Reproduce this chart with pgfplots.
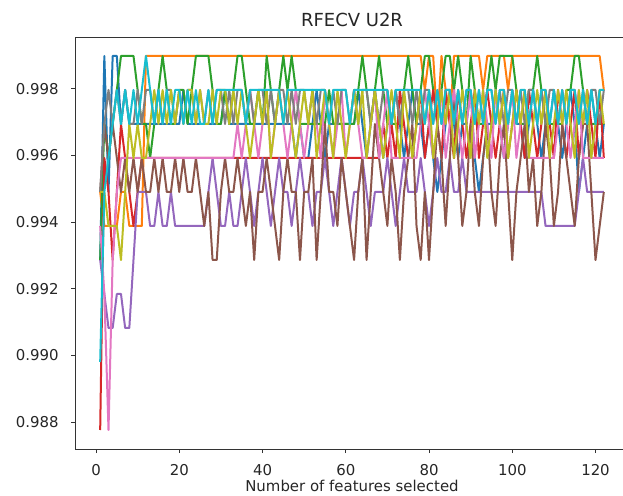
\documentclass[border=0pt]{standalone}
\usepackage{fontspec}
\setmainfont{DejaVu Sans}
\usepackage{pgfplots}
\pgfplotsset{compat=1.18}

\definecolor{c0}{HTML}{1F77B4}
\definecolor{c1}{HTML}{FF7F0E}
\definecolor{c2}{HTML}{2CA02C}
\definecolor{c3}{HTML}{D62728}
\definecolor{c4}{HTML}{9467BD}
\definecolor{c5}{HTML}{8C564B}
\definecolor{c6}{HTML}{E377C2}
\definecolor{c7}{HTML}{7F7F7F}
\definecolor{c8}{HTML}{BCBD22}
\definecolor{c9}{HTML}{17BECF}

\begin{document}
\begin{tikzpicture}
\useasboundingbox (0,0) rectangle (467.25pt,371.25pt);
\begin{axis}[
    at={(56.25pt,34.5pt)}, anchor=south west,
    scale only axis, width=415.5pt, height=309pt,
    xmin=-5.05, xmax=128.05, ymin=0.98719, ymax=0.99955,
    xtick={0,20,40,60,80,100,120},
    ytick={0.988,0.990,0.992,0.994,0.996,0.998},
    scaled y ticks=false,
    /pgf/number format/assume math mode=true,
    tick label style={font=\fontsize{11.2}{13}\selectfont, text=black!85},
    xticklabel style={anchor=base, inner sep=0pt, yshift=-17pt},
    yticklabel style={/pgf/number format/fixed, /pgf/number format/fixed zerofill,
      /pgf/number format/precision=3, anchor=east, inner sep=0pt, xshift=-9pt},
    tick align=outside, xtick pos=left, ytick pos=left,
    major tick length=3pt,
    every tick/.style={black!80, line width=0.6pt},
    axis line style={black!80, line width=0.7pt},
    title={RFECV U2R},
    title style={font=\fontsize{13.5}{16}\selectfont, text=black!85, at={(0.5,1)}, anchor=base, yshift=1.8pt},
    xlabel={Number of features selected},
    xlabel style={font=\fontsize{11.2}{13}\selectfont, text=black!85, at={(0.5,0)}, anchor=base, yshift=-31.5pt},
    every axis plot/.append style={line width=1.5pt, line join=round},
  ]
  % blue
  \addplot[c0] coordinates {(1,0.99286)(2,0.99898)(3,0.99490)(4,0.99898)(5,0.99898)(6,0.99694)(7,0.99796)(8,0.99694)(20,0.99694)(21,0.99796)(22,0.99694)(30,0.99694)(31,0.99796)(32,0.99694)(47,0.99694)(48,0.99592)(49,0.99694)(50,0.99592)(51,0.99592)(52,0.99694)(53,0.99796)(54,0.99694)(55,0.99592)(56,0.99694)(62,0.99694)(63,0.99796)(64,0.99694)(65,0.99592)(66,0.99694)(67,0.99796)(68,0.99694)(69,0.99592)(70,0.99694)(71,0.99694)(72,0.99796)(73,0.99694)(74,0.99592)(75,0.99694)(76,0.99796)(77,0.99694)(78,0.99694)(79,0.99592)(80,0.99694)(81,0.99592)(82,0.99490)(83,0.99592)(84,0.99694)(85,0.99796)(86,0.99694)(87,0.99592)(88,0.99694)(89,0.99694)(90,0.99796)(91,0.99592)(92,0.99490)(93,0.99592)(94,0.99694)(95,0.99694)(96,0.99796)(97,0.99694)(98,0.99592)(99,0.99694)(100,0.99796)(101,0.99694)(102,0.99694)(103,0.99592)(104,0.99694)(105,0.99796)(106,0.99694)(107,0.99592)(108,0.99694)(109,0.99694)(110,0.99796)(111,0.99694)(112,0.99592)(113,0.99694)(114,0.99796)(115,0.99694)(116,0.99490)(117,0.99592)(118,0.99694)(119,0.99796)(120,0.99694)(121,0.99592)(122,0.99694)};
  % orange
  \addplot[c1] coordinates {(1,0.99490)(2,0.99388)(5,0.99388)(6,0.99490)(7,0.99490)(8,0.99388)(11,0.99388)(12,0.99898)(78,0.99898)(79,0.99796)(80,0.99898)(81,0.99898)(82,0.99694)(83,0.99898)(84,0.99796)(85,0.99694)(86,0.99898)(92,0.99898)(93,0.99796)(94,0.99898)(98,0.99898)(99,0.99796)(100,0.99898)(121,0.99898)(122,0.99796)};
  % green
  \addplot[c2] coordinates {(1,0.99286)(2,0.99694)(3,0.99592)(4,0.99694)(5,0.99796)(6,0.99898)(9,0.99898)(10,0.99796)(11,0.99694)(12,0.99694)(13,0.99592)(14,0.99694)(15,0.99796)(16,0.99898)(17,0.99796)(18,0.99694)(19,0.99694)(20,0.99796)(21,0.99796)(22,0.99694)(23,0.99796)(24,0.99898)(27,0.99898)(28,0.99796)(29,0.99694)(30,0.99694)(31,0.99796)(32,0.99694)(33,0.99796)(34,0.99898)(35,0.99898)(36,0.99796)(37,0.99694)(38,0.99694)(39,0.99796)(40,0.99694)(41,0.99898)(42,0.99796)(43,0.99694)(44,0.99796)(45,0.99898)(46,0.99796)(47,0.99898)(48,0.99796)(49,0.99694)(55,0.99694)(56,0.99796)(57,0.99694)(62,0.99694)(63,0.99796)(64,0.99898)(65,0.99796)(66,0.99694)(67,0.99796)(68,0.99898)(69,0.99796)(70,0.99694)(73,0.99694)(74,0.99796)(75,0.99898)(76,0.99796)(77,0.99694)(78,0.99796)(79,0.99898)(80,0.99898)(81,0.99796)(82,0.99694)(83,0.99796)(84,0.99898)(85,0.99898)(86,0.99796)(87,0.99898)(88,0.99796)(89,0.99694)(90,0.99898)(91,0.99796)(92,0.99694)(93,0.99694)(94,0.99796)(95,0.99898)(96,0.99796)(97,0.99898)(100,0.99898)(101,0.99796)(102,0.99694)(103,0.99694)(104,0.99796)(105,0.99796)(106,0.99898)(107,0.99796)(108,0.99694)(112,0.99694)(113,0.99796)(114,0.99796)(115,0.99898)(116,0.99898)(117,0.99796)(118,0.99694)(122,0.99694)};
  % red
  \addplot[c3] coordinates {(1,0.98776)(2,0.99592)(3,0.99490)(4,0.99286)(5,0.99490)(6,0.99694)(7,0.99592)(8,0.99490)(9,0.99388)(10,0.99490)(11,0.99592)(68,0.99592)(69,0.99694)(70,0.99592)(71,0.99694)(72,0.99592)(73,0.99796)(74,0.99694)(75,0.99592)(76,0.99592)(77,0.99694)(78,0.99796)(79,0.99592)(80,0.99694)(81,0.99796)(82,0.99694)(83,0.99592)(84,0.99796)(85,0.99694)(86,0.99592)(87,0.99796)(88,0.99694)(89,0.99592)(90,0.99694)(91,0.99796)(92,0.99592)(93,0.99694)(94,0.99796)(95,0.99694)(96,0.99592)(97,0.99694)(98,0.99796)(99,0.99592)(100,0.99694)(101,0.99796)(102,0.99694)(103,0.99592)(104,0.99796)(105,0.99694)(106,0.99592)(107,0.99694)(108,0.99796)(109,0.99694)(110,0.99592)(111,0.99796)(112,0.99694)(113,0.99592)(114,0.99694)(115,0.99796)(116,0.99592)(117,0.99694)(118,0.99796)(119,0.99694)(120,0.99592)(121,0.99796)(122,0.99592)};
  % purple
  \addplot[c4] coordinates {(1,0.99286)(2,0.99184)(3,0.99082)(4,0.99082)(5,0.99184)(6,0.99184)(7,0.99082)(8,0.99082)(9,0.99286)(10,0.99490)(12,0.99490)(13,0.99388)(14,0.99388)(15,0.99490)(16,0.99388)(17,0.99388)(18,0.99490)(19,0.99388)(26,0.99388)(27,0.99490)(28,0.99592)(29,0.99490)(30,0.99388)(31,0.99388)(32,0.99490)(33,0.99388)(34,0.99388)(35,0.99490)(36,0.99592)(37,0.99490)(38,0.99388)(39,0.99490)(40,0.99592)(41,0.99490)(42,0.99388)(43,0.99490)(44,0.99592)(45,0.99490)(46,0.99490)(47,0.99388)(48,0.99490)(49,0.99592)(50,0.99490)(51,0.99490)(52,0.99388)(53,0.99490)(54,0.99490)(55,0.99592)(56,0.99490)(57,0.99388)(58,0.99490)(59,0.99592)(60,0.99490)(61,0.99388)(62,0.99490)(63,0.99490)(64,0.99592)(65,0.99490)(66,0.99388)(67,0.99490)(69,0.99490)(70,0.99592)(71,0.99490)(72,0.99388)(73,0.99490)(74,0.99592)(75,0.99490)(77,0.99490)(78,0.99592)(79,0.99490)(80,0.99388)(81,0.99490)(82,0.99592)(83,0.99490)(84,0.99490)(85,0.99592)(86,0.99490)(87,0.99490)(88,0.99592)(89,0.99490)(107,0.99490)(108,0.99388)(115,0.99388)(116,0.99490)(117,0.99592)(118,0.99490)(122,0.99490)};
  % brown
  \addplot[c5] coordinates {(1,0.99490)(2,0.99694)(3,0.99592)(4,0.99694)(5,0.99592)(6,0.99490)(7,0.99592)(8,0.99490)(9,0.99592)(10,0.99490)(11,0.99592)(12,0.99490)(13,0.99490)(14,0.99592)(15,0.99490)(16,0.99592)(17,0.99490)(18,0.99490)(19,0.99592)(20,0.99490)(21,0.99592)(22,0.99490)(23,0.99490)(24,0.99592)(25,0.99490)(26,0.99388)(27,0.99490)(28,0.99286)(29,0.99286)(30,0.99490)(31,0.99592)(32,0.99490)(33,0.99490)(34,0.99592)(35,0.99490)(36,0.99388)(37,0.99490)(38,0.99286)(39,0.99490)(40,0.99490)(41,0.99592)(42,0.99490)(43,0.99388)(44,0.99286)(45,0.99490)(46,0.99592)(47,0.99490)(48,0.99490)(49,0.99286)(50,0.99490)(51,0.99490)(52,0.99592)(53,0.99286)(54,0.99490)(55,0.99694)(56,0.99490)(57,0.99490)(58,0.99388)(59,0.99592)(60,0.99490)(61,0.99388)(62,0.99286)(63,0.99490)(64,0.99592)(65,0.99286)(66,0.99490)(67,0.99694)(68,0.99592)(69,0.99490)(70,0.99388)(71,0.99592)(72,0.99490)(73,0.99286)(74,0.99490)(75,0.99592)(76,0.99694)(77,0.99388)(78,0.99286)(79,0.99490)(80,0.99286)(81,0.99490)(82,0.99694)(83,0.99592)(84,0.99388)(85,0.99592)(86,0.99796)(87,0.99592)(88,0.99388)(89,0.99490)(90,0.99694)(91,0.99490)(92,0.99388)(93,0.99592)(94,0.99694)(95,0.99490)(96,0.99388)(97,0.99592)(98,0.99694)(99,0.99490)(100,0.99286)(101,0.99490)(102,0.99592)(103,0.99694)(104,0.99490)(105,0.99592)(106,0.99388)(107,0.99490)(108,0.99694)(109,0.99592)(110,0.99388)(111,0.99490)(112,0.99694)(113,0.99592)(114,0.99490)(115,0.99388)(116,0.99592)(117,0.99694)(118,0.99694)(119,0.99490)(120,0.99286)(121,0.99388)(122,0.99490)};
  % pink
  \addplot[c6] coordinates {(1,0.99388)(2,0.99184)(3,0.98776)(4,0.99286)(5,0.99490)(6,0.99592)(33,0.99592)(34,0.99694)(35,0.99592)(36,0.99694)(37,0.99796)(38,0.99694)(39,0.99592)(40,0.99694)(41,0.99796)(42,0.99592)(43,0.99694)(44,0.99796)(45,0.99694)(46,0.99592)(47,0.99694)(48,0.99796)(49,0.99694)(50,0.99592)(51,0.99694)(52,0.99796)(53,0.99694)(54,0.99592)(55,0.99796)(56,0.99694)(57,0.99592)(58,0.99694)(59,0.99796)(60,0.99592)(61,0.99694)(62,0.99796)(63,0.99694)(64,0.99592)(65,0.99592)(66,0.99694)(67,0.99796)(68,0.99592)(69,0.99694)(70,0.99796)(71,0.99592)(77,0.99592)(78,0.99694)(79,0.99796)(80,0.99694)(81,0.99592)(82,0.99694)(83,0.99796)(84,0.99592)(85,0.99694)(86,0.99796)(87,0.99694)(88,0.99592)(89,0.99694)(90,0.99796)(91,0.99592)(92,0.99694)(93,0.99796)(94,0.99694)(95,0.99592)(96,0.99796)(97,0.99694)(98,0.99592)(99,0.99694)(100,0.99796)(101,0.99592)(102,0.99694)(103,0.99796)(104,0.99592)(110,0.99592)(111,0.99694)(112,0.99796)(113,0.99694)(114,0.99592)(115,0.99694)(116,0.99796)(117,0.99592)(122,0.99592)};
  % gray
  \addplot[c7] coordinates {(1,0.99490)(2,0.99694)(3,0.99796)(4,0.99694)(5,0.99796)(6,0.99694)(7,0.99796)(8,0.99694)(9,0.99694)(10,0.99796)(11,0.99694)(12,0.99796)(13,0.99796)(14,0.99694)(15,0.99796)(16,0.99694)(17,0.99796)(18,0.99796)(19,0.99694)(20,0.99796)(21,0.99694)(22,0.99796)(23,0.99796)(24,0.99694)(25,0.99796)(26,0.99694)(27,0.99796)(28,0.99694)(29,0.99796)(30,0.99796)(31,0.99694)(32,0.99796)(33,0.99694)(34,0.99796)(35,0.99796)(36,0.99694)(37,0.99796)(38,0.99694)(39,0.99796)(40,0.99796)(41,0.99694)(42,0.99796)(43,0.99694)(44,0.99796)(45,0.99796)(46,0.99694)(47,0.99796)(48,0.99694)(49,0.99796)(50,0.99796)(51,0.99694)(52,0.99796)(53,0.99694)(54,0.99796)(55,0.99796)(56,0.99694)(57,0.99796)(58,0.99694)(59,0.99796)(60,0.99796)(61,0.99694)(62,0.99796)(63,0.99694)(64,0.99796)(65,0.99796)(66,0.99694)(67,0.99796)(68,0.99694)(69,0.99796)(70,0.99796)(71,0.99694)(72,0.99796)(73,0.99694)(74,0.99796)(75,0.99796)(76,0.99694)(77,0.99796)(78,0.99694)(79,0.99796)(80,0.99796)(81,0.99694)(82,0.99796)(83,0.99694)(84,0.99796)(85,0.99796)(86,0.99694)(87,0.99796)(88,0.99694)(89,0.99796)(90,0.99796)(91,0.99694)(92,0.99796)(93,0.99694)(94,0.99796)(95,0.99796)(96,0.99694)(97,0.99796)(98,0.99694)(99,0.99796)(100,0.99796)(101,0.99694)(102,0.99796)(103,0.99694)(104,0.99796)(105,0.99796)(106,0.99694)(107,0.99796)(108,0.99694)(109,0.99796)(110,0.99796)(111,0.99694)(112,0.99796)(113,0.99694)(114,0.99796)(115,0.99796)(116,0.99694)(117,0.99796)(118,0.99694)(119,0.99796)(120,0.99796)(121,0.99694)(122,0.99796)};
  % olive
  \addplot[c8] coordinates {(1,0.99490)(2,0.99490)(3,0.99388)(4,0.99388)(5,0.99388)(6,0.99286)(7,0.99490)(8,0.99694)(9,0.99592)(10,0.99694)(11,0.99592)(12,0.99592)(13,0.99694)(14,0.99796)(15,0.99694)(16,0.99796)(17,0.99694)(18,0.99796)(19,0.99694)(20,0.99796)(21,0.99694)(22,0.99796)(23,0.99796)(24,0.99694)(25,0.99796)(26,0.99694)(27,0.99694)(28,0.99796)(29,0.99694)(30,0.99796)(31,0.99796)(32,0.99694)(33,0.99796)(34,0.99694)(35,0.99796)(36,0.99694)(37,0.99592)(38,0.99694)(39,0.99796)(40,0.99694)(41,0.99796)(42,0.99592)(43,0.99694)(44,0.99796)(45,0.99694)(46,0.99796)(47,0.99694)(48,0.99592)(49,0.99694)(50,0.99796)(51,0.99694)(52,0.99796)(53,0.99592)(54,0.99694)(55,0.99796)(56,0.99694)(57,0.99592)(58,0.99796)(59,0.99694)(60,0.99592)(61,0.99694)(62,0.99796)(63,0.99694)(64,0.99796)(65,0.99592)(66,0.99694)(67,0.99796)(68,0.99694)(69,0.99592)(70,0.99694)(71,0.99796)(72,0.99694)(73,0.99592)(74,0.99796)(75,0.99694)(76,0.99592)(77,0.99694)(78,0.99796)(79,0.99694)(80,0.99796)(81,0.99592)(82,0.99694)(83,0.99796)(84,0.99694)(85,0.99796)(86,0.99592)(87,0.99694)(88,0.99796)(89,0.99694)(90,0.99592)(91,0.99796)(92,0.99694)(93,0.99796)(94,0.99592)(95,0.99694)(96,0.99796)(97,0.99694)(98,0.99796)(99,0.99592)(100,0.99694)(101,0.99796)(102,0.99694)(103,0.99796)(104,0.99592)(105,0.99694)(106,0.99796)(107,0.99694)(108,0.99796)(109,0.99592)(110,0.99694)(111,0.99796)(112,0.99694)(113,0.99796)(114,0.99694)(115,0.99592)(116,0.99796)(117,0.99694)(118,0.99796)(119,0.99592)(120,0.99694)(121,0.99796)(122,0.99694)};
  % cyan
  \addplot[c9] coordinates {(1,0.98980)(2,0.99490)(3,0.99592)(4,0.99694)(5,0.99796)(6,0.99694)(7,0.99796)(8,0.99694)(9,0.99796)(10,0.99694)(11,0.99796)(12,0.99898)(13,0.99796)(14,0.99694)(15,0.99796)(16,0.99694)(17,0.99796)(18,0.99694)(19,0.99796)(20,0.99796)(21,0.99694)(22,0.99796)(23,0.99694)(24,0.99796)(25,0.99694)(26,0.99694)(27,0.99796)(28,0.99694)(29,0.99796)(35,0.99796)(36,0.99694)(37,0.99796)(44,0.99796)(45,0.99694)(46,0.99796)(55,0.99796)(56,0.99694)(57,0.99796)(60,0.99796)(61,0.99694)(62,0.99796)(70,0.99796)(71,0.99694)(72,0.99796)(78,0.99796)(79,0.99694)(80,0.99796)(81,0.99694)(82,0.99796)(83,0.99694)(84,0.99796)(85,0.99796)(86,0.99694)(87,0.99796)(88,0.99694)(89,0.99796)(90,0.99796)(91,0.99694)(92,0.99796)(93,0.99694)(94,0.99796)(95,0.99796)(96,0.99694)(97,0.99796)(98,0.99796)(99,0.99694)(100,0.99796)(101,0.99694)(102,0.99796)(103,0.99796)(104,0.99694)(105,0.99796)(106,0.99694)(107,0.99796)(108,0.99796)(109,0.99694)(110,0.99796)(111,0.99694)(112,0.99796)(113,0.99694)(114,0.99796)(115,0.99796)(116,0.99694)(117,0.99796)(118,0.99694)(119,0.99796)(120,0.99694)(121,0.99796)(122,0.99796)};
\end{axis}
\end{tikzpicture}
\end{document}
